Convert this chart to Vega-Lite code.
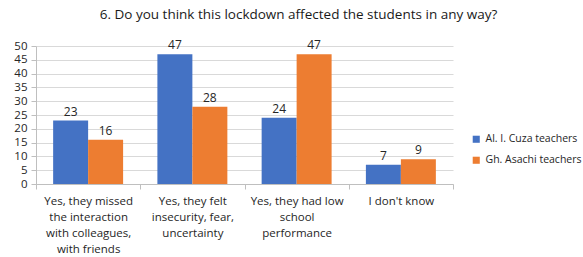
{
  "$schema": "https://vega.github.io/schema/vega-lite/v6.json",
  "width": 417,
  "height": 138,
  "autosize": "none",
  "padding": {"left": 36, "top": 46, "right": 130, "bottom": 73},
  "background": "white",
  "title": {
    "text": "6. Do you think this lockdown affected the students in any way?",
    "font": "Open Sans",
    "fontSize": 13.5,
    "fontWeight": "normal",
    "color": "#1a1a1a",
    "anchor": "middle",
    "dx": 54,
    "offset": 18
  },
  "config": {
    "view": {"stroke": null},
    "font": "Open Sans"
  },
  "data": {
    "values": [
      {"category": "Yes, they missed|the interaction|with colleagues,|with friends", "order": 1, "group": "Al. I. Cuza teachers", "value": 23},
      {"category": "Yes, they missed|the interaction|with colleagues,|with friends", "order": 1, "group": "Gh. Asachi teachers", "value": 16},
      {"category": "Yes, they felt|insecurity, fear,|uncertainty", "order": 2, "group": "Al. I. Cuza teachers", "value": 47},
      {"category": "Yes, they felt|insecurity, fear,|uncertainty", "order": 2, "group": "Gh. Asachi teachers", "value": 28},
      {"category": "Yes, they had low|school|performance", "order": 3, "group": "Al. I. Cuza teachers", "value": 24},
      {"category": "Yes, they had low|school|performance", "order": 3, "group": "Gh. Asachi teachers", "value": 47},
      {"category": "I don't know", "order": 4, "group": "Al. I. Cuza teachers", "value": 7},
      {"category": "I don't know", "order": 4, "group": "Gh. Asachi teachers", "value": 9}
    ]
  },
  "encoding": {
    "x": {
      "field": "category",
      "type": "nominal",
      "sort": {"field": "order"},
      "scale": {"paddingInner": 0, "paddingOuter": 0},
      "axis": {
        "title": null,
        "labelAngle": 0,
        "labelExpr": "split(datum.label, '|')",
        "labelFontSize": 11.5,
        "labelColor": "#262626",
        "labelLineHeight": 16,
        "labelPadding": 6,
        "labelLimit": 200,
        "tickBand": "extent",
        "tickColor": "#bfbfbf",
        "tickSize": 5,
        "domainColor": "#bfbfbf"
      }
    },
    "xOffset": {
      "field": "group",
      "type": "nominal",
      "scale": {"paddingInner": 0, "paddingOuter": 0.49}
    },
    "y": {
      "field": "value",
      "type": "quantitative",
      "scale": {"domain": [0, 50]},
      "axis": {
        "title": null,
        "values": [0, 5, 10, 15, 20, 25, 30, 35, 40, 45, 50],
        "labelFontSize": 11.5,
        "labelColor": "#262626",
        "labelPadding": 4,
        "labelOverlap": false,
        "tickColor": "#bfbfbf",
        "tickSize": 5,
        "domainColor": "#bfbfbf",
        "gridColor": "#d9d9d9"
      }
    },
    "color": {
      "field": "group",
      "type": "nominal",
      "scale": {"range": ["#4472C4", "#ED7D31"]},
      "legend": {
        "title": null,
        "orient": "none",
        "legendX": 435,
        "legendY": 88,
        "symbolType": "square",
        "symbolSize": 50,
        "labelFontSize": 10.5,
        "labelColor": "#262626",
        "rowPadding": 10,
        "symbolStrokeWidth": 0
      }
    }
  },
  "layer": [
    {"mark": {"type": "bar"}},
    {
      "mark": {"type": "text", "dy": -9, "fontSize": 12, "color": "#262626"},
      "encoding": {"text": {"field": "value"}, "color": {"value": "#262626"}}
    }
  ]
}
